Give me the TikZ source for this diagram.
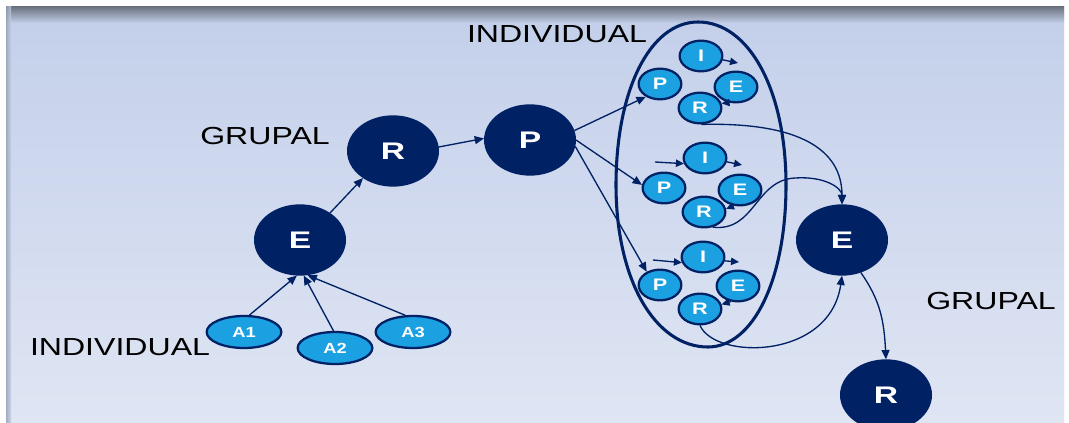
\documentclass[tikz,border=0pt]{standalone}
\usepackage{graphicx}
\usepackage{fontspec}
\setmainfont{Liberation Sans}
\usetikzlibrary{shapes.geometric,arrows.meta}
\definecolor{navy}{RGB}{0,33,100}
\definecolor{sky}{RGB}{27,160,226}
\definecolor{bgtop}{RGB}{195,207,234}
\definecolor{bgbot}{RGB}{223,229,243}
\definecolor{band}{RGB}{108,116,128}
\definecolor{edge}{RGB}{150,160,178}
\newcommand\hs[2]{\scalebox{#1}[1]{#2}}
\begin{document}
\begin{tikzpicture}[x=0.75pt,y=-0.75pt,
  big/.style={ellipse, fill=navy, draw=navy, line width=1pt, minimum width=68pt, minimum height=52.5pt, inner sep=0pt, text=white, font=\bfseries\fontsize{18}{20}\selectfont},
  small/.style={ellipse, fill=sky, draw=navy, line width=1.7pt, minimum width=32pt, minimum height=23pt, inner sep=0pt, text=white, font=\bfseries\fontsize{12.5}{13}\selectfont},
  act/.style={ellipse, fill=sky, draw=navy, line width=1.7pt, minimum width=56pt, minimum height=24pt, inner sep=0pt, text=white, font=\bfseries\fontsize{11}{12}\selectfont},
  lbl/.style={text=black, inner sep=0pt, anchor=base, font=\fontsize{18.5}{20}\selectfont},
  arr/.style={draw=navy, line width=1pt, -{Triangle[length=7pt,width=6pt]}},
  sarr/.style={draw=navy, line width=1pt, -{Triangle[length=6pt,width=5.5pt]}}
]
\clip (0,0) rectangle (1069,423);
\fill[white] (0,0) rectangle (1069,423);
\shade[top color=bgtop, bottom color=bgbot] (6,7) rectangle (1064,423);
\shade[top color=band, bottom color=bgtop] (6,7) rectangle (1064,23);
\shade[left color=edge, right color=bgtop, opacity=0.8] (6,7) rectangle (11,423);

% outline of the individual group
\draw[navy, line width=2.3pt] (698,22) .. controls (749,22) and (786,90) .. (786,185)
  .. controls (786,280) and (753,347) .. (708,347)
  .. controls (655,347) and (616,280) .. (616,185)
  .. controls (616,90) and (650,22) .. (698,22) -- cycle;

% labels
\node[lbl] (tInd1) at (557,43) {\hs{1.3}{INDIVIDUAL}};
\node[lbl] (tGru1) at (265,145) {\hs{1.3}{GRUPAL}};
\node[lbl] (tGru2) at (991,310) {\hs{1.3}{GRUPAL}};
\node[lbl] (tInd2) at (120,355) {\hs{1.3}{INDIVIDUAL}};

% big nodes
\node[big] (gE) at (300,240) {\hs{1.4}{E}};
\node[big] (gR) at (393,151) {\hs{1.4}{R}};
\node[big] (gP) at (530,140) {\hs{1.4}{P}};
\node[big] (gE2) at (842,240) {\hs{1.4}{E}};
\node[big] (gR2) at (886,395) {\hs{1.4}{R}};

% A nodes
\node[act] (a1) at (244,332) {\hs{1.25}{A1}};
\node[act] (a2) at (335,348) {\hs{1.25}{A2}};
\node[act] (a3) at (413,332) {\hs{1.25}{A3}};

% group 1
\node[small] (g1I) at (701,56) {\hs{1.3}{I}};
\node[small] (g1P) at (660,84) {\hs{1.3}{P}};
\node[small] (g1E) at (736,87) {\hs{1.3}{E}};
\node[small] (g1R) at (700,108) {\hs{1.3}{R}};
% group 2
\node[small] (g2I) at (705,158) {\hs{1.3}{I}};
\node[small] (g2P) at (664,188) {\hs{1.3}{P}};
\node[small] (g2E) at (740,190) {\hs{1.3}{E}};
\node[small] (g2R) at (704,212) {\hs{1.3}{R}};
% group 3
\node[small] (g3I) at (703,257) {\hs{1.3}{I}};
\node[small] (g3P) at (660,285) {\hs{1.3}{P}};
\node[small] (g3E) at (738,286) {\hs{1.3}{E}};
\node[small] (g3R) at (700,309) {\hs{1.3}{R}};

% free ends
\coordinate (c1) at (738,63);
\coordinate (c2) at (742,165);
\coordinate (c3) at (739,262);
\coordinate (s2) at (655,162);
\coordinate (s3) at (653,260);

% connectors left part
\draw[arr] (a1.72) -- (gE.265);
\draw[arr] (a2.95) -- (gE.276);
\draw[arr] (a3.115) -- (gE.282);
\draw[arr] (gE.42) -- (gR.222);
\draw[arr] (gR.5) -- (gP.178);
\draw[arr] (gP.12) -- (g1P.222);
\draw[arr] (gP.0) -- (g2P.172);
\draw[arr] (gP.-8) -- (g3P.135);

% inner arrows
\draw[sarr] (g1I.-10) -- (c1);
\draw[sarr] (g1E.245) -- (g1R.12);
\draw[sarr] (s2) -- (g2I.195);
\draw[sarr] (g2I.-10) -- (c2);
\draw[sarr] (g2E.248) -- (g2R.8);
\draw[sarr] (s3) -- (g3I.195);
\draw[sarr] (g3I.-10) -- (c3);
\draw[sarr] (g3E.245) -- (g3R.12);

% to the group E and R
\draw[arr] (g1R.275) .. controls (800,122) and (842,150) .. (gE2.north);
\draw[arr] (g2R.300) .. controls (755,232) and (755,180) .. (795,178)
  .. controls (825,176) and (842,188) .. (gE2.north);
\draw[arr] (g3R.south) .. controls (715,360) and (830,360) .. (gE2.south);
\draw[arr] (gE2.300) .. controls (880,300) and (884,320) .. (gR2.north);
\end{tikzpicture}
\end{document}
